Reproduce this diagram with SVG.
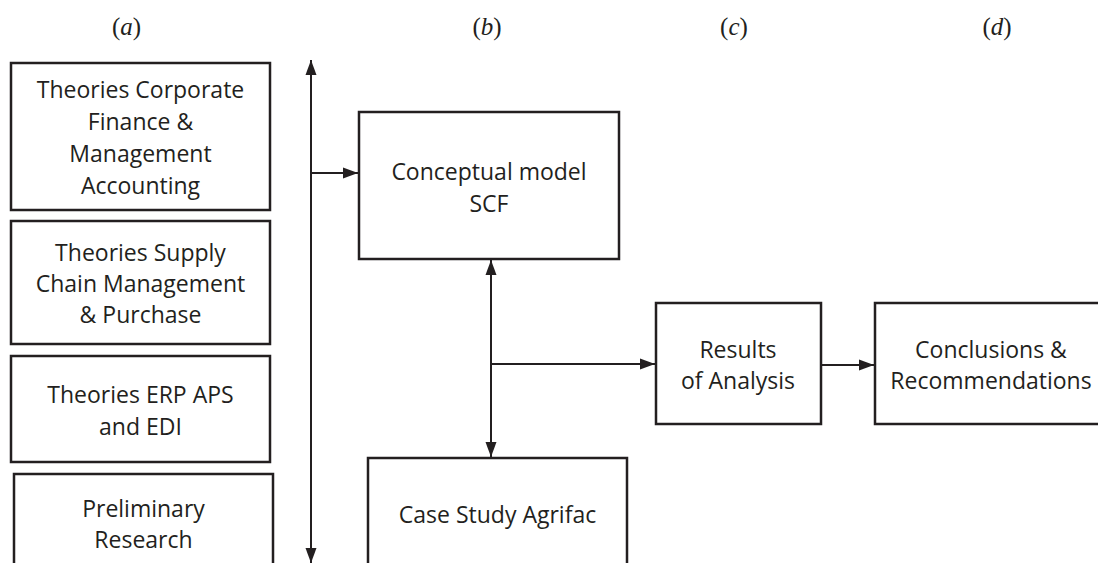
<svg xmlns="http://www.w3.org/2000/svg" width="1098" height="563" viewBox="0 0 1098 563">
<defs>
<marker id="ah" markerUnits="userSpaceOnUse" markerWidth="16" markerHeight="12" refX="15" refY="6" orient="auto-start-reverse">
<path d="M0,0.5 L15,6 L0,11.5 Z" fill="#231f20"/>
</marker>
<style>
.box{fill:#fff;stroke:#231f20;stroke-width:2.5}
.t{font-family:"Open Sans","Noto Sans",sans-serif;font-size:23px;fill:#231f20;text-anchor:middle}
.lab{font-family:"Liberation Serif",serif;font-size:25px;fill:#231f20;text-anchor:middle}
.c{fill:none;stroke:#231f20;stroke-width:2}
</style>
</defs>
<rect width="1098" height="563" fill="#fff"/>
<g id="labels">
<text class="lab" x="126.5" y="35">(<tspan font-style="italic">a</tspan>)</text>
<text class="lab" x="487" y="35">(<tspan font-style="italic">b</tspan>)</text>
<text class="lab" x="734" y="35">(<tspan font-style="italic">c</tspan>)</text>
<text class="lab" x="997" y="35">(<tspan font-style="italic">d</tspan>)</text>
</g>
<g id="n1">
<rect class="box" x="11" y="63" width="259" height="147"/>
<text class="t" x="140.5" y="98">Theories Corporate</text>
<text class="t" x="140.5" y="130">Finance &amp;</text>
<text class="t" x="140.5" y="162">Management</text>
<text class="t" x="140.5" y="194">Accounting</text>
</g>
<g id="n2">
<rect class="box" x="11" y="221" width="259" height="123"/>
<text class="t" x="140.5" y="261">Theories Supply</text>
<text class="t" x="140.5" y="292">Chain Management</text>
<text class="t" x="140.5" y="323">&amp; Purchase</text>
</g>
<g id="n3">
<rect class="box" x="11" y="356" width="259" height="106"/>
<text class="t" x="140.5" y="403">Theories ERP APS</text>
<text class="t" x="140.5" y="435">and EDI</text>
</g>
<g id="n4">
<rect class="box" x="14" y="474" width="259" height="100"/>
<text class="t" x="143.5" y="517">Preliminary</text>
<text class="t" x="143.5" y="548">Research</text>
</g>
<g id="n5">
<rect class="box" x="359" y="112" width="260" height="147"/>
<text class="t" x="489" y="180">Conceptual model</text>
<text class="t" x="489" y="212">SCF</text>
</g>
<g id="n6">
<rect class="box" x="368" y="458" width="259" height="120"/>
<text class="t" x="497.5" y="523">Case Study Agrifac</text>
</g>
<g id="n7">
<rect class="box" x="656" y="303" width="165" height="121"/>
<text class="t" x="738" y="358">Results</text>
<text class="t" x="738" y="389">of Analysis</text>
</g>
<g id="n8">
<rect class="box" x="875" y="303" width="260" height="121"/>
<text class="t" x="991" y="358">Conclusions &amp;</text>
<text class="t" x="991" y="389">Recommendations</text>
</g>
<g id="connectors">
<line class="c" x1="311" y1="60" x2="311" y2="563" marker-start="url(#ah)" marker-end="url(#ah)"/>
<line class="c" x1="311" y1="173" x2="358" y2="173" marker-end="url(#ah)"/>
<line class="c" x1="491" y1="260" x2="491" y2="457" marker-start="url(#ah)" marker-end="url(#ah)"/>
<line class="c" x1="491" y1="364" x2="655" y2="364" marker-end="url(#ah)"/>
<line class="c" x1="821" y1="365" x2="874" y2="365" marker-end="url(#ah)"/>
</g>
</svg>
